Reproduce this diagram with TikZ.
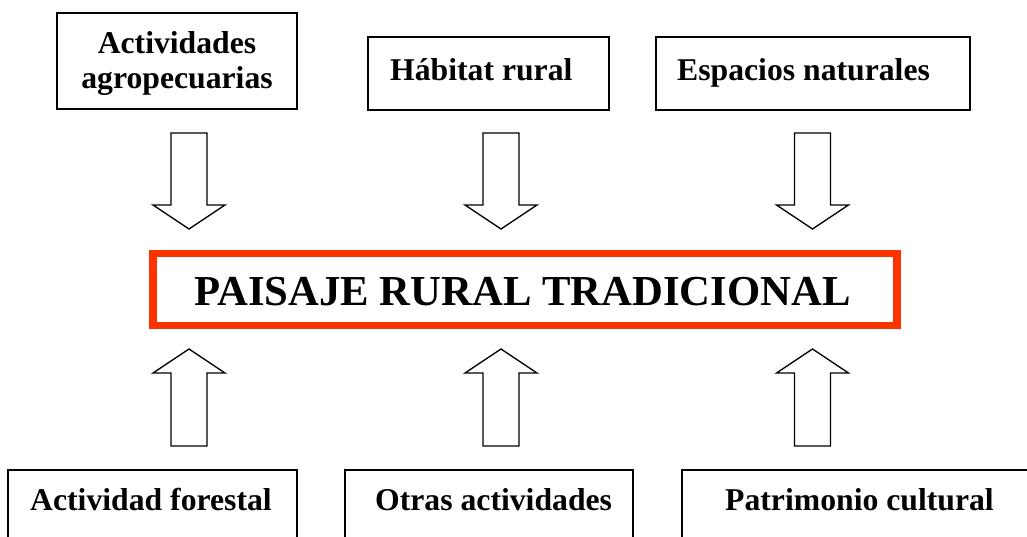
\documentclass[tikz,border=0pt]{standalone}
\usepackage{fontspec}
\setmainfont{Liberation Serif}
\definecolor{framered}{RGB}{255,51,0}
\tikzset{
  box/.style={draw=black, line width=1.3pt, inner sep=0pt, fill=white},
  lbl/.style={inner sep=0pt, font=\fontsize{31.7}{35}\selectfont\bfseries},
  titlelbl/.style={inner sep=0pt, font=\fontsize{42.7}{48}\selectfont\bfseries},
  blockarrow/.style={draw=black, line width=1.3pt, line join=miter, fill=white},
  mainbox/.style={draw=framered, line width=7.5pt, inner sep=0pt}
}
\begin{document}
\begin{tikzpicture}[x=1pt,y=-1pt]
\useasboundingbox (0,0) rectangle (1027,536);
\clip (0,0) rectangle (1027,536);
\fill[white] (0,0) rectangle (1027,536);
% top boxes
\node[box, minimum width=240pt, minimum height=96pt] (agro) at (177,61) {};
\node[lbl, anchor=base] (agroA) at (177,53) {Actividades};
\node[lbl, anchor=base] (agroB) at (177,88) {agropecuarias};
\node[box, minimum width=241pt, minimum height=73pt] (hab) at (488.5,73.5) {};
\node[lbl, anchor=base west] (habt) at (390,80) {Hábitat rural};
\node[box, minimum width=314pt, minimum height=73pt] (esp) at (813,73.5) {};
\node[lbl, anchor=base west] (espt) at (677,80) {Espacios naturales};
% centre box
\node[mainbox, minimum width=744pt, minimum height=72pt] (paisaje) at (525,289.5) {};
\node[titlelbl, anchor=base] (paisajet) at (522.5,305) {PAISAJE RURAL TRADICIONAL};
% bottom boxes
\node[box, minimum width=289pt, minimum height=90pt] (fores) at (152.5,515) {};
\node[lbl, anchor=base west] (forest) at (30,510) {Actividad forestal};
\node[box, minimum width=288pt, minimum height=90pt] (otras) at (489,515) {};
\node[lbl, anchor=base west] (otrast) at (375,510) {Otras actividades};
\node[box, minimum width=378pt, minimum height=90pt] (patri) at (871,515) {};
\node[lbl, anchor=base west] (patrit) at (725,510) {Patrimonio cultural};
% block arrows down
\coordinate (d1) at (189,133);
\coordinate (d2) at (501,133);
\coordinate (d3) at (812.5,133);
\foreach \c in {d1,d2,d3}{
  \draw[blockarrow] (\c) ++(-18,0) -- ++(0,72) -- ++(-18,0) -- ++(36,24) -- ++(36,-24) -- ++(-18,0) -- ++(0,-72) -- cycle;
}
% block arrows up
\coordinate (u1) at (189,349);
\coordinate (u2) at (501,349);
\coordinate (u3) at (812.5,349);
\foreach \c in {u1,u2,u3}{
  \draw[blockarrow] (\c) -- ++(36,24) -- ++(-18,0) -- ++(0,73) -- ++(-36,0) -- ++(0,-73) -- ++(-18,0) -- cycle;
}
\end{tikzpicture}
\end{document}
